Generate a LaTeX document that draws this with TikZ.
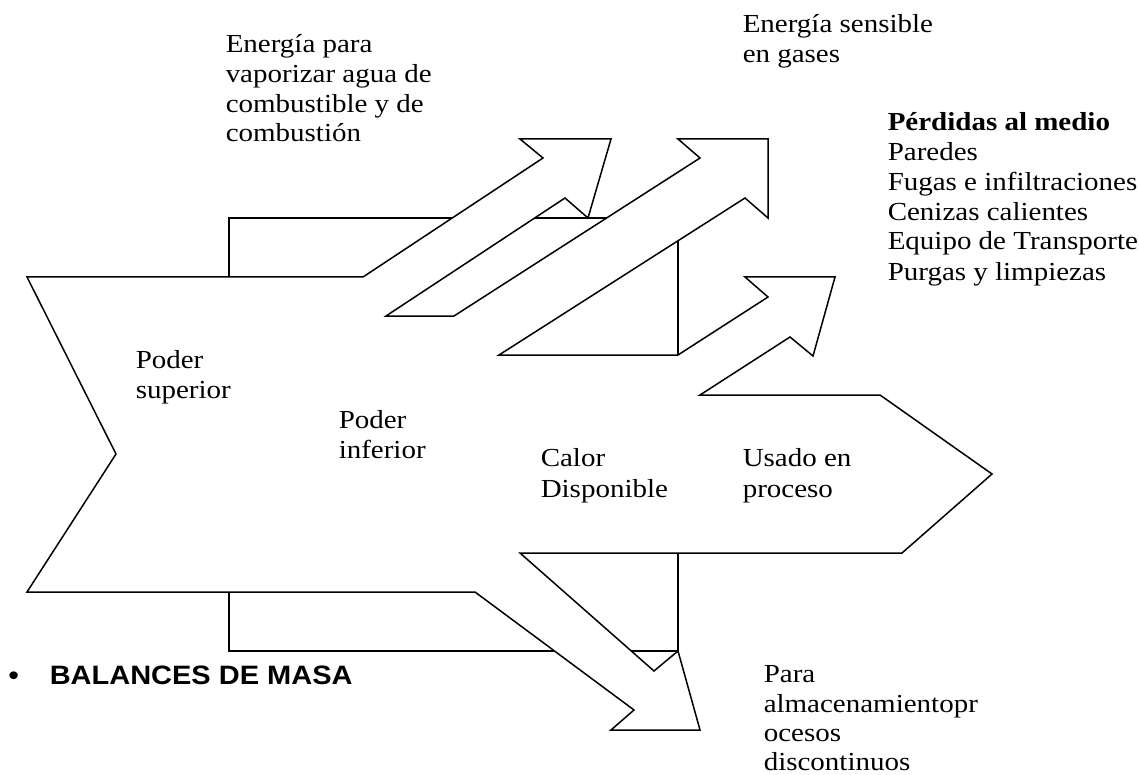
\documentclass[tikz,border=0pt]{standalone}
\usepackage{fontspec}
\setmainfont{Liberation Serif}[FakeStretch=1.115]
\newfontfamily\arialb{Liberation Sans}[FakeStretch=1.09]
\begin{document}
\begin{tikzpicture}[x=1pt,y=-1pt,line width=1.5pt,line join=miter,
  lbl/.style={anchor=base west,inner sep=0pt,font=\fontsize{26}{30}\selectfont},
  lblb/.style={anchor=base west,inner sep=0pt,font=\fontsize{26}{30}\selectfont\bfseries},
  head/.style={anchor=base west,inner sep=0pt,font=\arialb\fontsize{26.6}{30}\selectfont\bfseries}]
\useasboundingbox (0,0) rectangle (1139,775);
% brackets (drawn beneath the flow shape)
\draw (229,277) -- (229,218) -- (678,218) -- (678,355);
\draw (229,592) -- (229,651) -- (678,651) -- (678,553);
% flow shape (Sankey-like outline)
\draw[fill=white]
  (116,454) -- (27,277) -- (363,277)
  -- (543,158) -- (520,139) -- (611,139) -- (588,218) -- (565,198)
  -- (386,316) -- (454,316)
  -- (700,158) -- (678,139) -- (768,139) -- (768,218) -- (745,198)
  -- (499,355) -- (678,355)
  -- (768,297) -- (745,277) -- (835,277) -- (813,356) -- (790,337)
  -- (700,395) -- (880,395) -- (992,474) -- (902,553) -- (520,553)
  -- (654,671) -- (678,651) -- (700,730) -- (611,730) -- (634,710)
  -- (475,592) -- (27,592) -- cycle;
% labels
\node[lbl] (e1) at (225,53) {Energía para};
\node[lbl] (e2) at (225,83) {vaporizar agua de};
\node[lbl] (e3) at (225,113) {combustible y de};
\node[lbl] (e4) at (225,142) {combustión};
\node[lbl] (s1) at (742,33) {Energía sensible};
\node[lbl] (s2) at (742,63) {en gases};
\node[lblb] (p0) at (887,131) {Pérdidas al medio};
\node[lbl] (p1) at (887,161) {Paredes};
\node[lbl] (p2) at (887,191) {Fugas e infiltraciones};
\node[lbl] (p3) at (887,221) {Cenizas calientes};
\node[lbl] (p4) at (887,250) {Equipo de Transporte};
\node[lbl] (p5) at (887,280) {Purgas y limpiezas};
\node[lbl] (ps1) at (135,368) {Poder};
\node[lbl] (ps2) at (135,398) {superior};
\node[lbl] (pi1) at (338,428) {Poder};
\node[lbl] (pi2) at (338,458) {inferior};
\node[lbl] (c1) at (540,466) {Calor};
\node[lbl] (c2) at (540,497) {Disponible};
\node[lbl] (u1) at (742,466) {Usado en};
\node[lbl] (u2) at (742,497) {proceso};
\node[lbl] (a1) at (763,682) {Para};
\node[lbl] (a2) at (763,712) {almacenamientopr};
\node[lbl] (a3) at (763,741) {ocesos};
\node[lbl] (a4) at (763,770) {discontinuos};
\node[head] (bul) at (8,684) {•};
\node[head] (bal) at (49,684) {BALANCES DE MASA};
\end{tikzpicture}
\end{document}
